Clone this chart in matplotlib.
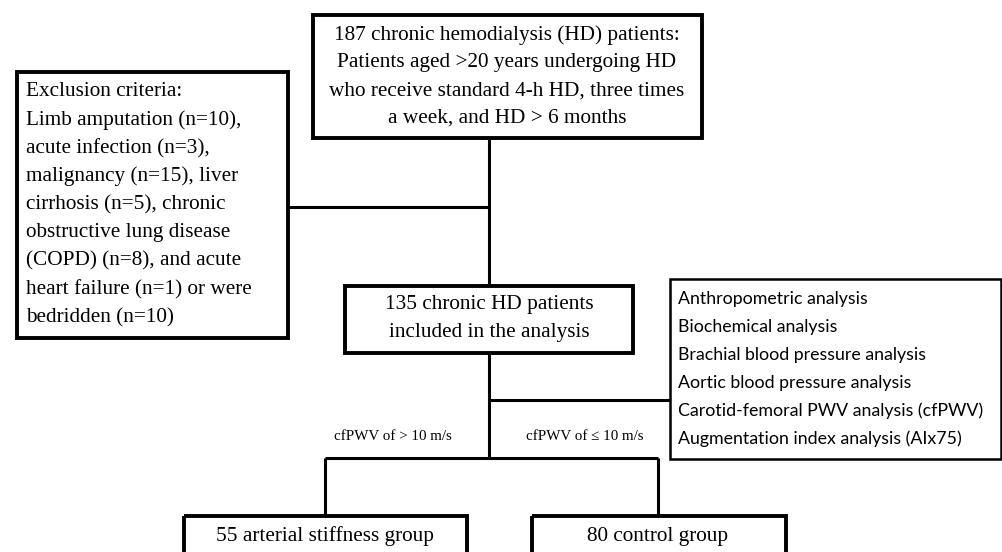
import matplotlib.pyplot as plt
from matplotlib.patches import Rectangle

# box texts
top_lines = ["187 chronic hemodialysis (HD) patients:",
             "Patients aged >20 years undergoing HD",
             "who receive standard 4-h HD, three times",
             "a week, and HD > 6 months"]
excl_lines = ["Exclusion criteria:",
              "Limb amputation (n=10),",
              "acute infection (n=3),",
              "malignancy (n=15), liver",
              "cirrhosis (n=5), chronic",
              "obstructive lung disease",
              "(COPD) (n=8), and acute",
              "heart failure (n=1) or were",
              "bedridden (n=10)"]
mid_lines = ["135 chronic HD patients", "included in the analysis"]
analysis_lines = ["Anthropometric analysis",
                  "Biochemical analysis",
                  "Brachial blood pressure analysis",
                  "Aortic blood pressure analysis",
                  "Carotid-femoral PWV analysis (cfPWV)",
                  "Augmentation index analysis (AIx75)"]
branch_labels = ["cfPWV of > 10 m/s", "cfPWV of \u2264 10 m/s"]
group_labels = ["55 arterial stiffness group", "80 control group"]

serif = "Liberation Serif"
sans = "Lato"

fig = plt.figure(figsize=(10.02, 5.52), dpi=100)
ax = fig.add_axes([0, 0, 1, 1])
ax.set_xlim(0, 1002)
ax.set_ylim(552, 0)
ax.axis("off")

def box(x0, y0, x1, y1, lw=2.8):
    ax.add_patch(Rectangle((x0, y0), x1 - x0, y1 - y0, fill=False,
                           edgecolor="black", linewidth=lw, zorder=3))

def line(xs, ys):
    ax.plot(xs, ys, color="black", linewidth=2.2, solid_capstyle="butt", zorder=2)

# boxes
box(313, 15, 702, 138)
box(17, 72, 288, 338)
box(345, 286, 633, 353)
box(670, 279, 1001, 459, lw=1.8)
box(184, 516, 467, 560)
box(532, 516, 786, 560)

# connectors
line([489, 489], [138, 286])
line([288, 489], [207, 207])
line([489, 489], [353, 458])
line([489, 670], [400, 400])
line([325, 658], [458, 458])
line([325, 325], [458, 516])
line([658, 658], [458, 516])

fs = 15.3
for i, t in enumerate(top_lines):
    ax.text(507, 35 + i * 27.8, t, ha="center", va="center", fontsize=fs, family=serif)
for i, t in enumerate(excl_lines):
    ax.text(26, 92 + i * 28.2, t, ha="left", va="center", fontsize=fs, family=serif)
for i, t in enumerate(mid_lines):
    ax.text(489, 305 + i * 28, t, ha="center", va="center", fontsize=fs, family=serif)
for i, t in enumerate(analysis_lines):
    ax.text(678, 299 + i * 28, t, ha="left", va="center", fontsize=12.8, family=sans)

ax.text(393, 436, branch_labels[0], ha="center", va="center", fontsize=10.8, family=serif)
ax.text(585, 436, branch_labels[1], ha="center", va="center", fontsize=10.8, family=serif)
ax.text(325, 536, group_labels[0], ha="center", va="center", fontsize=fs, family=serif)
ax.text(658, 536, group_labels[1], ha="center", va="center", fontsize=fs, family=serif)

fig.savefig("out.png", dpi=100)
